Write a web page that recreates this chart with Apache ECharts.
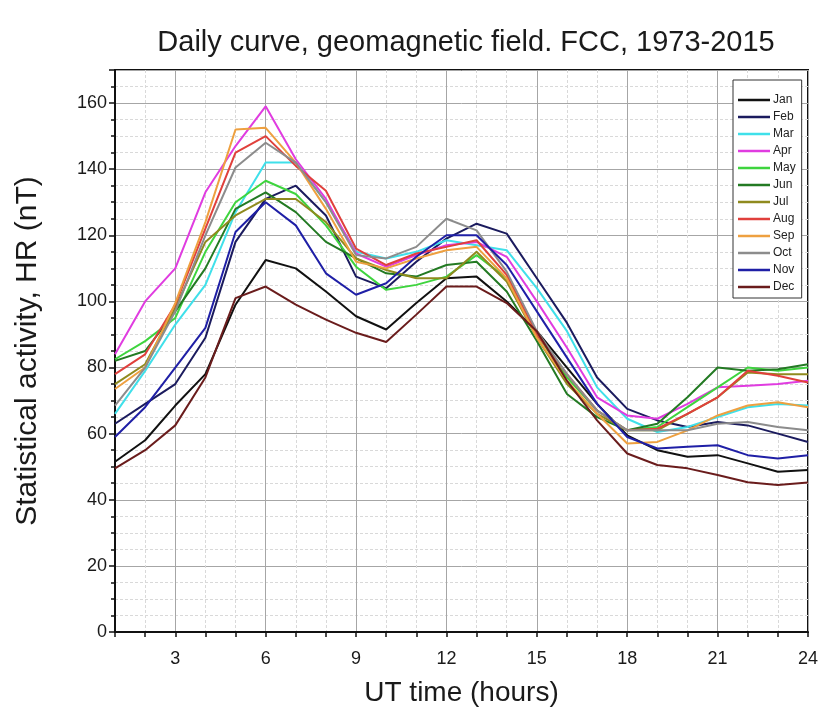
<!DOCTYPE html>
<html>
<head>
<meta charset="utf-8">
<script src="https://cdn.jsdelivr.net/npm/echarts@6/dist/echarts.min.js"></script>
<style>
html,body{margin:0;padding:0;background:#fff;}
#chart{width:822px;height:717px;}
</style>
</head>
<body>
<div id="chart"></div>
<script>
// ---- Data ----
const hours = [1,2,3,4,5,6,7,8,9,10,11,12,13,14,15,16,17,18,19,20,21,22,23,24];
const monthNames = ['Jan','Feb','Mar','Apr','May','Jun','Jul','Aug','Sep','Oct','Nov','Dec'];
const jan = [51.5,58,68.5,78,99,112.5,110,103,95.5,91.5,99.5,107,107.5,100,91,80,69,59.5,55,53,53.5,51,48.5,49];
const feb = [63,69,75,89,118,131,135,126,107.5,104,112,119,123.5,120.5,107,93.5,77,67.5,64,62,63.5,62.5,60,57.5];
const mar = [66,79,93,105,127,142,142,130,115,113,115,118.5,117,115.5,104,91,74,64.5,60.5,62,65,68,69,68.5];
const apr = [84,100,110,133,147,159,143,131,114.5,110.5,114,117,118,113.5,100,86,71,65.5,64.5,69,74,74.5,75,76];
const may = [82.5,88,95,115,130,136.5,132.5,123,110.5,103.5,105,107.5,114,107,90,77,67,61,62,68,74,80,79,80];
const jun = [82,85,97,110,128,133,127,118,113,108.5,107.5,111,112,103,88,72,65,61,63,71,80,79,79.5,81];
const jul = [75,81,98,118,126,131,131,124,113,109.5,107,107,115,106,89,75,66,61,61,66,71,78.5,78,78];
const aug = [78,84,99,122,145,150,141,133.5,116,111,114.5,116.5,118.5,108,90,78,67,61,61.5,66,71,79,77.5,75.5];
const sep = [73.5,80,99.5,124,152,152.5,142,128,112,110,113,115.5,116.5,107,89,76,66,57,57.5,61,65.5,68.5,69.5,68];
const oct = [68.5,80,97,120,140.5,148,142,130,114,113,116.5,125,121.5,109,91,78,67,61,61,61,63,63.5,62,61];
const nov = [59,68,80,92,121,130,123,108.5,102,105.5,113.5,120,120,111,97,83,69,59,55.5,56,56.5,53.5,52.5,53.5];
const dec = [49.5,55,62.5,77,101,104.5,99,94.5,90.5,87.7,96,104.5,104.5,99.5,91,76,64,54,50.5,49.5,47.5,45.3,44.5,45.2];
const monthValues = [jan,feb,mar,apr,may,jun,jul,aug,sep,oct,nov,dec];
const monthColors = ['#111111','#1b1b5e','#3fe0ea','#e03ce0','#3ed43e','#237a23','#8f8a1e','#e0403c','#eea040','#8c8c8c','#1f1fa6','#6a1c1c'];
const xLabelHours = [3,6,9,12,15,18,21,24];

const FONT = "'Liberation Sans', Arial, sans-serif";
const chart = echarts.init(document.getElementById('chart'), null, {renderer:'canvas'});

const series = monthNames.map((name, i) => ({
  name: name,
  type: 'line',
  xAxisIndex: 0,
  yAxisIndex: 0,
  symbol: 'none',
  smooth: false,
  color: monthColors[i],
  lineStyle: {color: monthColors[i], width: 2},
  data: hours.map((h, k) => [h, monthValues[i][k]]),
  z: 3
}));

const T = 'rgba(0,0,0,0)';
const option = {
  animation: false,
  backgroundColor: '#ffffff',
  title: {
    text: 'Daily curve, geomagnetic field. FCC, 1973-2015',
    left: 461, top: 23, textAlign: 'center',
    textStyle: {fontFamily: FONT, fontSize: 29, fontWeight: 'normal', color: '#1a1a1a'}
  },
  grid: {left: 115, right: 14, top: 70, bottom: 85, show: true, borderColor: '#111', borderWidth: 2, backgroundColor: 'transparent', containLabel: false, outerBoundsMode: 'none'},
  legend: {
    orient: 'vertical', left: 733, top: 80,
    padding: [14, 6, 5, 5],
    icon: 'rect',
    itemWidth: 32, itemHeight: 2.5, itemGap: 5,
    borderColor: '#333', borderWidth: 1, backgroundColor: '#fff',
    textStyle: {fontFamily: FONT, fontSize: 12, color: '#222', lineHeight: 12, padding: [0,0,0,-2]},
    data: monthNames
  },
  xAxis: [
    {
      type: 'value', min: 1, max: 24, interval: 1,
      name: 'UT time (hours)', nameLocation: 'middle', nameGap: 47,
      nameTextStyle: {fontFamily: FONT, fontSize: 28, color: '#1a1a1a'},
      axisLine: {show: true, onZero: false, lineStyle: {color: '#111', width: 2}},
      axisTick: {show: true, inside: false, length: 5, lineStyle: {color: '#111', width: 1.5}},
      axisLabel: {
        fontFamily: FONT, fontSize: 18, color: '#1a1a1a', margin: 18,
        formatter: v => (xLabelHours.indexOf(v) >= 0 ? String(v) : '')
      },
      splitLine: {show: true, lineStyle: {color: ['#d9d9d9', '#d9d9d9', T], type: [3, 2], width: 1}}
    },
    {
      type: 'value', min: 1, max: 24, interval: 1, position: 'bottom',
      axisLine: {show: false}, axisTick: {show: false}, axisLabel: {show: false},
      splitLine: {show: true, lineStyle: {color: [T, T, '#a6a6a6'], type: 'solid', width: 1}}
    }
  ],
  yAxis: [{
    type: 'value', min: 0, max: 170, interval: 20,
    name: 'Statistical activity, HR (nT)', nameLocation: 'middle', nameGap: 72,
    nameTextStyle: {fontFamily: FONT, fontSize: 30, color: '#1a1a1a'},
    axisLine: {show: true, lineStyle: {color: '#111', width: 2}},
    axisTick: {show: true, inside: false, length: 6, lineStyle: {color: '#111', width: 1.5}},
    minorTick: {show: true, splitNumber: 4, length: 4, lineStyle: {color: '#111', width: 1.5}},
    axisLabel: {
      fontFamily: FONT, fontSize: 18, color: '#1a1a1a', margin: 8,
      showMaxLabel: false,
      formatter: v => (v % 20 === 0 ? String(v) : '')
    },
    splitLine: {show: true, lineStyle: {color: '#a6a6a6', width: 1}},
    minorSplitLine: {show: true, lineStyle: {color: '#d9d9d9', width: 1, type: [3, 2]}}
  }],
  series: series
};
chart.setOption(option);
</script>
</body>
</html>
